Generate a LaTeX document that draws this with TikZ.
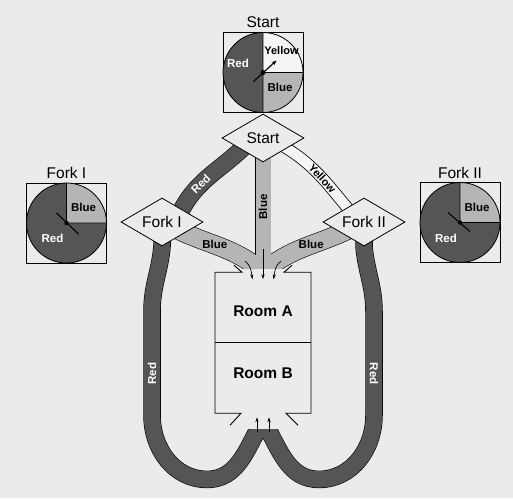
\documentclass[tikz,border=0pt]{standalone}
\usepackage{fontspec}
\setmainfont{Liberation Sans}
\usetikzlibrary{shapes.geometric,arrows.meta,positioning,calc}
\definecolor{bgGray}{HTML}{EBEBEB}
\definecolor{redGray}{HTML}{555555}
\definecolor{blueGray}{HTML}{B5B5B5}
\definecolor{yelFill}{HTML}{F5F5F5}
\newcommand{\bigsf}{\fontsize{15.5}{18}\selectfont}
\newcommand{\midsf}{\fontsize{11.5}{13}\selectfont\bfseries}
\pgfdeclarelayer{paper}
\pgfdeclarelayer{bands}
\pgfsetlayers{paper,bands,main}

\begin{document}
\begin{tikzpicture}[x=1pt, y=1pt]
\tikzset{
  fork/.style={diamond, aspect=1.7, draw, line width=0.8pt, fill=bgGray,
               minimum width=82pt, minimum height=48pt, inner sep=0pt, font=\bigsf},
  heading/.style={font=\bigsf, inner sep=1pt},
  room/.style={rectangle, minimum width=96pt, minimum height=70.5pt, inner sep=0pt, outer sep=0pt},
  roomlbl/.style={font=\bigsf\bfseries, inner sep=0pt},
  piebox/.style={draw, line width=0.8pt, minimum size=80pt, inner sep=0pt, outer sep=0pt},
  pieline/.style={line width=0.8pt},
  bl/.style={font=\midsf, inner sep=0pt},
  wl/.style={bl, text=white},
  redband/.style={draw=black, line width=17.5pt, postaction={draw=redGray, line width=16.3pt}},
  yelband/.style={draw=black, line width=12pt, postaction={draw=yelFill, line width=10.4pt}},
  wall/.style={line width=0.9pt},
  flow/.style={-{Stealth[length=5pt,width=3.2pt]}, line width=0.7pt},
  spin/.style={line width=1.1pt}
}
\useasboundingbox (0,0) rectangle (513,-498);
\begin{pgfonlayer}{paper}
  \fill[bgGray] (0,0) rectangle (513,-498);
\end{pgfonlayer}

% Spinners
\node[piebox] (spie) at (263,-72.5) {};
\node[piebox] (f1pie) at (66.5,-223) {};
\node[piebox] (f2pie) at (460,-222.5) {};
\node[heading, above=4pt of spie] (tStart) {Start};
\node[heading, above=3pt of f1pie] (tF1) {Fork I};
\node[heading, above=3pt of f2pie] (tF2) {Fork II};

% Forks and rooms
\node[fork] (startd) at (263,-138) {Start};
\node[fork] (fork1) at (162,-222) {Fork I};
\node[fork] (fork2) at (364,-222) {Fork II};
\node[room] (roomA) at (263,-307.5) {};
\node[room, below=0pt of roomA] (roomB) {};
\node[roomlbl] (lA) at ($(roomA)+(0,-3.5)$) {Room A};
\node[roomlbl] (lB) at ($(roomB)+(0,4.5)$) {Room B};

\coordinate (blueIn) at (263,-272);
\coordinate (loopL) at (262,-422);
\coordinate (loopR) at (264,-422);

% Bands
\begin{pgfonlayer}{bands}
  \begin{scope}
    \clip (0,0) rectangle (513,-268);
    \foreach \wv/\ws/\col in {16.2/19.2/black, 15/18/blueGray} {
      \draw[\col, line width=\wv pt] (startd.center) -- (blueIn);
      \draw[\col, line width=\ws pt] ($(fork1)+(14,-7)$) to[out=-26, in=139] (blueIn)
                                     ($(fork2)+(-14,-7)$) to[out=206, in=41] (blueIn);
    }
  \end{scope}
  \path (startd.center) -- node[bl, pos=.515, rotate=90] (lbV) {Blue} (blueIn);
  \path ($(fork1)+(14,-7)$) to[out=-26, in=139] node[bl, pos=.42] (lbL) {Blue} (blueIn);
  \path ($(fork2)+(-14,-7)$) to[out=206, in=41] node[bl, pos=.42] (lbR) {Blue} (blueIn);

  \draw[redband] ($(startd)+(-16,-6)$) to[out=225, in=65] ($(fork1)+(17,7)$);
  \path ($(startd)+(-16,-6)$) to[out=225, in=65]
     node[wl, sloped, pos=.62] (lr0) {Red} ($(fork1)+(17,7)$);
  \draw[yelband] ($(startd)+(18,-7)$) to[out=-30, in=130] ($(fork2)+(-14,11)$);
  \path ($(startd)+(18,-7)$) to[out=-30, in=130]
     node[bl, sloped, pos=.56, font=\fontsize{11}{13}\selectfont\bfseries] (ly) {Yellow} ($(fork2)+(-14,11)$);

  \begin{scope}
    \clip (0,-150) -- (235,-150) -- (235,-429) -- (291,-429) -- (291,-150)
          -- (513,-150) -- (513,-498) -- (0,-498) -- cycle;
    \draw[redband]
      (fork1.center) -- (fork1.south) to[out=-95, in=90] ++(-10,-65) -- ++(0,-104)
        to[out=-90, in=180] ++(55,-64) to[out=0, in=240] (loopL)
      (fork2.center) -- (fork2.south) to[out=-85, in=90] ++(10,-65) -- ++(0,-104)
        to[out=-90, in=0] ++(-55,-64) to[out=180, in=-60] (loopR);
  \end{scope}
  \path (fork1.south) ++(-10,-65) -- node[wl, pos=.6, rotate=90] (lrL) {Red} ++(0,-104);
  \path (fork2.south) ++(10,-65) -- node[wl, pos=.6, rotate=-90] (lrR) {Red} ++(0,-104);
\end{pgfonlayer}

% Walls and doors
\draw[wall] ($(roomA.north)+(-29,7)$) -- ($(roomA.north)+(-21,0)$) -- (roomA.north west)
  -- (roomB.south west) -- ($(roomB.south)+(-22,0)$) -- ++(-11,-12);
\draw[wall] ($(roomA.north)+(29,7)$) -- ($(roomA.north)+(21,0)$) -- (roomA.north east)
  -- (roomB.south east) -- ($(roomB.south)+(23,0)$) -- ++(12,-12);
\draw[wall] (roomA.south west) -- (roomA.south east);

% Entry arrows
\draw[flow] ($(roomA.north)+(-18,11)$) to[out=-35, in=100] ($(roomA.north)+(-10.5,-7)$);
\draw[flow] ($(roomA.north)+(0,23)$) -- ($(roomA.north)+(0,-7)$);
\draw[flow] ($(roomA.north)+(18,11)$) to[out=215, in=80] ($(roomA.north)+(10.5,-7)$);
\foreach \dx in {-6,6}
  \draw[flow] ($(roomB.south)+(\dx,-19)$) -- ($(roomB.south)+(\dx,-4)$);

% Start spinner
\fill[redGray] (spie.north) arc[start angle=90, end angle=270, radius=40pt] -- cycle;
\fill[yelFill] (spie.center) -- (spie.east) arc[start angle=0, end angle=90, radius=40pt] -- cycle;
\fill[blueGray] (spie.center) -- (spie.south) arc[start angle=270, end angle=360, radius=40pt] -- cycle;
\draw[pieline] (spie.center) circle[radius=40pt] (spie.north) -- (spie.south) (spie.center) -- (spie.east);
\draw[spin, -{Stealth[length=5pt,width=4pt]}] ($(spie.center)+(-9.5,-9)$) -- ($(spie.center)+(13.5,12)$);
\fill (spie.center) circle[radius=2.5pt];
\node[wl] (sR) at ($(spie.center)+(-25,9.5)$) {Red};
\node[bl, font=\fontsize{11}{13}\selectfont\bfseries] (sY) at ($(spie.center)+(18.5,21.5)$) {Yellow};
\node[bl] (sB) at ($(spie.center)+(17,-15)$) {Blue};

% Fork spinners
\foreach \p/\ax/\ay/\bx/\by in {f1pie/-10/10/12/-11, f2pie/-12/10/10/-9} {
  \fill[redGray] (\p.center) circle[radius=40pt];
  \fill[blueGray] (\p.center) -- (\p.east) arc[start angle=0, end angle=90, radius=40pt] -- cycle;
  \draw[pieline] (\p.center) circle[radius=40pt] (\p.north) -- (\p.center) -- (\p.east);
  \draw[spin] ($(\p.center)+(\ax,\ay)$) -- ($(\p.center)+(\bx,\by)$);
  \fill (\p.center) circle[radius=2.2pt];
  \node[bl] (\p-b) at ($(\p.center)+(17,15.5)$) {Blue};
  \node[wl] (\p-r) at ($(\p.center)+(-14,-15.5)$) {Red};
}
\end{tikzpicture}
\end{document}
